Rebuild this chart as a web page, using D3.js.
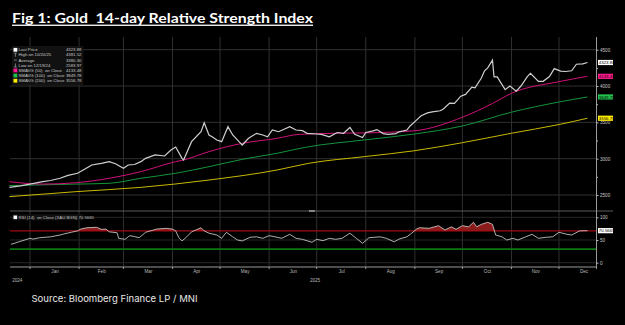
<!DOCTYPE html>
<html><head><meta charset="utf-8">
<script src="https://cdn.jsdelivr.net/npm/d3@7"></script>
<style>html,body{margin:0;padding:0;background:#000;}svg{display:block;}</style>
</head><body>
<svg id="c" width="625" height="325"></svg>
<script>
// ---------- DATA ----------
const priceDates = ["2024-12-19","2024-12-26","2025-01-01","2025-01-09","2025-01-14","2025-01-20","2025-01-25","2025-01-31","2025-02-05","2025-02-09","2025-02-15","2025-02-20","2025-02-24","2025-03-01","2025-03-04","2025-03-08","2025-03-12","2025-03-15","2025-03-21","2025-03-27","2025-03-31","2025-04-03","2025-04-07","2025-04-08","2025-04-13","2025-04-19","2025-04-21","2025-04-24","2025-04-26","2025-04-29","2025-05-02","2025-05-06","2025-05-09","2025-05-13","2025-05-15","2025-05-19","2025-05-24","2025-05-28","2025-05-31","2025-06-03","2025-06-07","2025-06-14","2025-06-18","2025-06-22","2025-06-25","2025-07-01","2025-07-04","2025-07-09","2025-07-14","2025-07-18","2025-07-22","2025-07-25","2025-07-30","2025-08-01","2025-08-05","2025-08-08","2025-08-12","2025-08-15","2025-08-20","2025-08-22","2025-08-27","2025-08-29","2025-09-02","2025-09-05","2025-09-09","2025-09-12","2025-09-17","2025-09-19","2025-09-23","2025-09-26","2025-09-30","2025-10-03","2025-10-07","2025-10-09","2025-10-13","2025-10-15","2025-10-17","2025-10-20","2025-10-21","2025-10-23","2025-10-28","2025-10-31","2025-11-04","2025-11-07","2025-11-11","2025-11-13","2025-11-18","2025-11-21","2025-11-25","2025-11-28","2025-12-02","2025-12-05","2025-12-09","2025-12-12","2025-12-16","2025-12-19"];
const priceClose = [2605,2625,2650,2683,2700,2730,2770,2799,2860,2913,2936,2959,2930,2867,2913,2920,2959,3005,3051,3037,3120,3161,3005,2982,3234,3371,3495,3326,3302,3257,3234,3440,3326,3234,3188,3280,3349,3326,3302,3395,3371,3440,3395,3385,3349,3340,3335,3300,3360,3350,3430,3335,3290,3360,3380,3400,3345,3335,3345,3370,3395,3450,3530,3590,3630,3645,3660,3685,3765,3760,3860,3885,3985,3975,4110,4210,4250,4356,4125,4125,3950,4000,3930,4000,4130,4175,4065,4065,4130,4240,4205,4200,4210,4300,4305,4324];

const sma50Dates = ["2024-12-19","2025-01-09","2025-01-30","2025-02-20","2025-03-12","2025-04-03","2025-04-08","2025-04-24","2025-05-15","2025-06-06","2025-06-20","2025-07-15","2025-08-01","2025-09-01","2025-10-01","2025-10-20","2025-11-01","2025-12-01","2025-12-19"];
const sma50 = [2683,2650,2669,2730,2821,2959,2982,3097,3211,3280,3335,3350,3355,3385,3570,3760,3900,4060,4133.48];
const sma100Dates = ["2024-12-19","2025-01-09","2025-01-30","2025-02-20","2025-03-12","2025-04-03","2025-04-24","2025-05-15","2025-06-06","2025-06-24","2025-08-01","2025-09-01","2025-10-01","2025-11-01","2025-12-01","2025-12-19"];
const sma100 = [2630,2640,2650,2661,2730,2799,2890,2991,3074,3157,3260,3340,3450,3640,3780,3849.78];
const sma200Dates = ["2024-12-19","2025-01-30","2025-03-12","2025-04-24","2025-06-06","2025-06-26","2025-08-01","2025-09-01","2025-10-01","2025-11-01","2025-12-01","2025-12-19"];
const sma200 = [2477,2546,2605,2706,2844,2936,3030,3110,3220,3350,3470,3556.78];

const rsiDates = ["2024-12-20","2024-12-25","2025-01-01","2025-01-03","2025-01-07","2025-01-14","2025-01-20","2025-01-22","2025-01-27","2025-01-31","2025-02-02","2025-02-06","2025-02-12","2025-02-15","2025-02-18","2025-02-20","2025-02-25","2025-02-26","2025-03-02","2025-03-05","2025-03-08","2025-03-11","2025-03-15","2025-03-19","2025-03-22","2025-03-28","2025-04-01","2025-04-03","2025-04-05","2025-04-07","2025-04-10","2025-04-13","2025-04-17","2025-04-19","2025-04-21","2025-04-24","2025-04-29","2025-05-02","2025-05-05","2025-05-09","2025-05-12","2025-05-15","2025-05-20","2025-05-24","2025-05-28","2025-06-01","2025-06-06","2025-06-09","2025-06-14","2025-06-18","2025-06-22","2025-06-28","2025-07-01","2025-07-05","2025-07-09","2025-07-13","2025-07-17","2025-07-22","2025-07-26","2025-07-30","2025-08-03","2025-08-10","2025-08-14","2025-08-19","2025-08-22","2025-08-27","2025-08-30","2025-09-02","2025-09-04","2025-09-10","2025-09-16","2025-09-20","2025-09-24","2025-09-27","2025-10-01","2025-10-05","2025-10-08","2025-10-10","2025-10-13","2025-10-17","2025-10-20","2025-10-22","2025-10-26","2025-10-29","2025-11-02","2025-11-05","2025-11-10","2025-11-14","2025-11-18","2025-11-23","2025-11-27","2025-12-01","2025-12-06","2025-12-09","2025-12-14","2025-12-19"];
const rsiValues = [40.5,46,53.7,52,55,57,61,63,67,70,74,77,78,73.5,74,68,66,53.7,51.5,59.5,57.5,55,67,71,74,75.7,74,70,55,48,57,68,74,77,70,65,61,53.7,67,57,50,48,56,57,53.7,59.5,56,53.7,62.5,53.7,51.5,45,51.5,48.5,53.7,51.5,53.7,65,53.7,42.7,55,57,53.7,46,52,57,65,74,77,75.7,81.5,72,79,73.5,81.5,79,89,79,84.5,89,84.5,61,57,50,53.7,50,57,62.5,53.7,56,57,67,62.5,61,70,70.57];

const priceTicks = [2500,3000,3500,4000,4500];
const rsiTicks = [0,50,100];
const monthLabels = ["Jan","Feb","Mar","Apr","May","Jun","Jul","Aug","Sep","Oct","Nov","Dec"];
const yearLabels = [["2024","2024-12-24"],["2025","2025-06-30"]];
const legendRows = [
  ["Last Price","4323.88","#ffffff","sq"],
  ["High on 10/20/25","4381.52","#cccccc","up"],
  ["Average","3380.30","#cccccc","dash"],
  ["Low on 12/19/24","2583.97","#cccccc","down"],
  ["SMAVG (50)  on Close","4133.48","#ff1493","sq"],
  ["SMAVG (100)  on Close","3849.78","#1fc24a","sq"],
  ["SMAVG (200)  on Close","3556.78","#ffee00","sq"]
];
const rsiLegend = "RSI (14)  on Close (XAU BGN) 70.5665";
const rsiLast = 70.5665;

// ---------- CHART ----------
const parse = d3.utcParse("%Y-%m-%d");
const svg = d3.select("#c");
svg.append("rect").attr("width",625).attr("height",325).attr("fill","#000");

const x = d3.scaleUtc().domain([parse("2024-12-19"), parse("2025-12-25")]).range([9.4, 597]);
const yP = d3.scaleLinear().domain([2500,4500]).range([195,49.7]);
const yR = d3.scaleLinear().domain([0,100]).range([262.7,217.3]);
const L = 10, R = 596.5, PT = 37, PB = 211, RB = 267;
const FONT = "Liberation Sans, Arial, sans-serif";

const grid = "#303030";
// vertical month gridlines
const months = d3.utcMonth.range(parse("2025-01-01"), parse("2025-12-02"));
svg.append("g").selectAll("line").data(months).join("line")
  .attr("x1",d=>x(d)).attr("x2",d=>x(d)).attr("y1",PT).attr("y2",RB)
  .attr("stroke",grid).attr("stroke-width",1);
// horizontal price gridlines
svg.append("g").selectAll("line").data(priceTicks).join("line")
  .attr("x1",L).attr("x2",R).attr("y1",d=>yP(d)).attr("y2",d=>yP(d))
  .attr("stroke",grid);
svg.append("g").selectAll("line").data(rsiTicks).join("line")
  .attr("x1",L).attr("x2",R).attr("y1",d=>yR(d)).attr("y2",d=>yR(d))
  .attr("stroke","#262626");

// RSI panel
const rsi = rsiDates.map((d,i)=>({d:parse(d),v:rsiValues[i]}));
svg.append("clipPath").attr("id","above70").append("rect")
  .attr("x",0).attr("y",0).attr("width",625).attr("height",yR(70));
svg.append("path").datum(rsi).attr("clip-path","url(#above70)")
  .attr("d",d3.area().x(p=>x(p.d)).y0(yR(70)).y1(p=>yR(p.v)))
  .attr("fill","#8c1c1c");
svg.append("line").attr("x1",L).attr("x2",R).attr("y1",yR(70)).attr("y2",yR(70))
  .attr("stroke","#a00d12").attr("stroke-width",1.4);
svg.append("line").attr("x1",L).attr("x2",R).attr("y1",yR(30)).attr("y2",yR(30))
  .attr("stroke","#0b7a10").attr("stroke-width",1.8);
svg.append("path").datum(rsi)
  .attr("d",d3.line().x(p=>x(p.d)).y(p=>yR(p.v)))
  .attr("fill","none").attr("stroke","#d8d8d8").attr("stroke-width",0.8);

// Moving averages
function maLine(dates, vals, color){
  const data = dates.map((d,i)=>({d:parse(d),v:vals[i]}));
  svg.append("path").datum(data)
    .attr("d",d3.line().curve(d3.curveMonotoneX).x(p=>x(p.d)).y(p=>yP(p.v)))
    .attr("fill","none").attr("stroke",color).attr("stroke-width",1);
}
maLine(sma200Dates, sma200, "#c9b800");
maLine(sma100Dates, sma100, "#14943a");
maLine(sma50Dates, sma50, "#d0127a");

// Price
const price = priceDates.map((d,i)=>({d:parse(d),v:priceClose[i]}));
svg.append("path").datum(price)
  .attr("d",d3.line().x(p=>x(p.d)).y(p=>yP(p.v)))
  .attr("fill","none").attr("stroke","#cfcfcf").attr("stroke-width",1.2).attr("stroke-linejoin","miter");

// panel separator lines and axis
svg.append("line").attr("x1",L).attr("x2",613).attr("y1",PB).attr("y2",PB).attr("stroke","#5a5a5a").attr("stroke-width",1.2);
svg.append("rect").attr("x",309).attr("y",PB-0.8).attr("width",6).attr("height",1.6).attr("fill","#9a9a9a");
svg.append("line").attr("x1",L).attr("x2",R).attr("y1",RB).attr("y2",RB).attr("stroke","#9a9a9a");
svg.append("line").attr("x1",R).attr("x2",R).attr("y1",PT).attr("y2",RB+2).attr("stroke","#9a9a9a");

const fs = 4.6;
const axP = d3.axisRight(yP).tickValues(priceTicks).tickSize(2).tickPadding(1.5).tickFormat(d3.format("d"));
const gP = svg.append("g").attr("transform",`translate(${R},0)`).call(axP);
const axPm = d3.axisRight(yP).tickValues([2750,3250,3750,4250]).tickSize(1.5).tickFormat("");
const gPm = svg.append("g").attr("transform",`translate(${R},0)`).call(axPm);
const axR = d3.axisRight(yR).tickValues(rsiTicks).tickSize(2).tickPadding(1.5);
const gR = svg.append("g").attr("transform",`translate(${R},0)`).call(axR);
[gP,gPm,gR].forEach(g=>{
  g.select(".domain").remove();
  g.selectAll("line").attr("stroke","#bbb");
  g.selectAll("text").attr("fill","#c8c8c8").attr("font-size",fs).attr("font-family",FONT);
});

// bottom axis
const mids = months.map(m=>new Date((+m + +d3.utcMonth.offset(m,1))/2));
const axB = d3.axisBottom(x).tickValues(mids).tickSize(0).tickPadding(3).tickFormat((d,i)=>monthLabels[i]);
const gB = svg.append("g").attr("transform",`translate(0,${RB})`).call(axB);
gB.select(".domain").remove();
gB.selectAll("text").attr("fill","#b8b8b8").attr("font-size",fs).attr("font-family",FONT);
svg.append("g").selectAll("line").data(months).join("line")
  .attr("x1",d=>x(d)).attr("x2",d=>x(d)).attr("y1",RB).attr("y2",RB+2).attr("stroke","#9a9a9a");
svg.append("g").selectAll("text").data(yearLabels).join("text")
  .attr("x",d=>x(parse(d[1]))).attr("y",282).attr("text-anchor","middle")
  .attr("fill","#b8b8b8").attr("font-size",fs).attr("font-family",FONT)
  .text(d=>d[0]);

// right value tags
function tag(yv, txt, bg, fg){
  const g = svg.append("g");
  g.append("rect").attr("x",598).attr("y",yv-2.6).attr("width",15).attr("height",5.2).attr("fill",bg);
  g.append("text").attr("x",598.8).attr("y",yv+1.6).attr("fill",fg)
    .attr("font-size",4.4).attr("font-family",FONT).text(txt);
}
tag(yP(4323.88),"4323.88","#ffffff","#000");
tag(yP(4133.48),"4133.48","#ff1a8c","#000");
tag(yP(3849.78),"3849.78","#22c24c","#000");
tag(yP(3556.78),"3556.78","#ffee00","#000");
tag(yR(rsiLast),"70.5665","#ffffff","#000");

// legend
const lg = svg.append("g");
lg.append("rect").attr("x",12.5).attr("y",46.3).attr("width",70.5).attr("height",38.4)
  .attr("fill","#111").attr("stroke","#1c1c1c").attr("stroke-width",0.5);
legendRows.forEach((r,i)=>{
  const cy = 49.8 + i*5.15;
  if(r[3]==="sq"){
    lg.append("rect").attr("x",13.5).attr("y",cy-1.9).attr("width",3.8).attr("height",3.8).attr("fill",r[2]);
  } else if(r[3]==="up"){
    lg.append("path").attr("d",`M15.4 ${cy+1.8} V${cy-1.8} M14 ${cy-1.8} H16.8`).attr("stroke","#bbb").attr("stroke-width",0.6).attr("fill","none");
  } else if(r[3]==="dash"){
    lg.append("path").attr("d",`M14 ${cy} H16.8`).attr("stroke","#bbb").attr("stroke-width",0.6);
  } else {
    lg.append("path").attr("d",`M15.4 ${cy-1.8} V${cy+1.8} M14 ${cy+1.8} H16.8`).attr("stroke","#bbb").attr("stroke-width",0.6).attr("fill","none");
  }
  lg.append("text").attr("x",18.5).attr("y",cy+1.5).attr("fill","#c8c8c8").attr("font-size",4.3)
    .attr("font-family",FONT).style("white-space","pre").text(r[0]);
  lg.append("text").attr("x",81.5).attr("y",cy+1.5).attr("text-anchor","end").attr("fill","#c8c8c8").attr("font-size",4.3)
    .attr("font-family",FONT).text(r[1]);
});
// rsi legend
const rl = svg.append("g");
rl.append("rect").attr("x",12.5).attr("y",214.3).attr("width",71).attr("height",6).attr("fill","#111");
rl.append("rect").attr("x",13.5).attr("y",215.5).attr("width",3.6).attr("height",3.6).attr("fill","#fff");
rl.append("text").attr("x",18.5).attr("y",219).attr("fill","#c8c8c8").attr("font-size",4.3)
  .attr("font-family",FONT).style("white-space","pre").text(rsiLegend);

// title
svg.append("text").attr("x",12).attr("y",22.7).attr("fill","#fff")
  .attr("font-size",13.5).attr("font-weight","bold").attr("font-family","Lato, Open Sans, sans-serif")
  .style("white-space","pre").attr("textLength",301).attr("lengthAdjust","spacingAndGlyphs")
  .text("Fig 1: Gold  14-day Relative Strength Index");
svg.append("rect").attr("x",12).attr("y",24.6).attr("width",301).attr("height",1.3).attr("fill","#fff");

// source
svg.append("text").attr("x",31.5).attr("y",301.5).attr("fill","#e6e6e6")
  .attr("font-size",9.5).attr("font-family","Inter, Roboto, sans-serif")
  .attr("textLength",166).attr("lengthAdjust","spacingAndGlyphs")
  .text("Source: Bloomberg Finance LP / MNI");
</script>
</body></html>
